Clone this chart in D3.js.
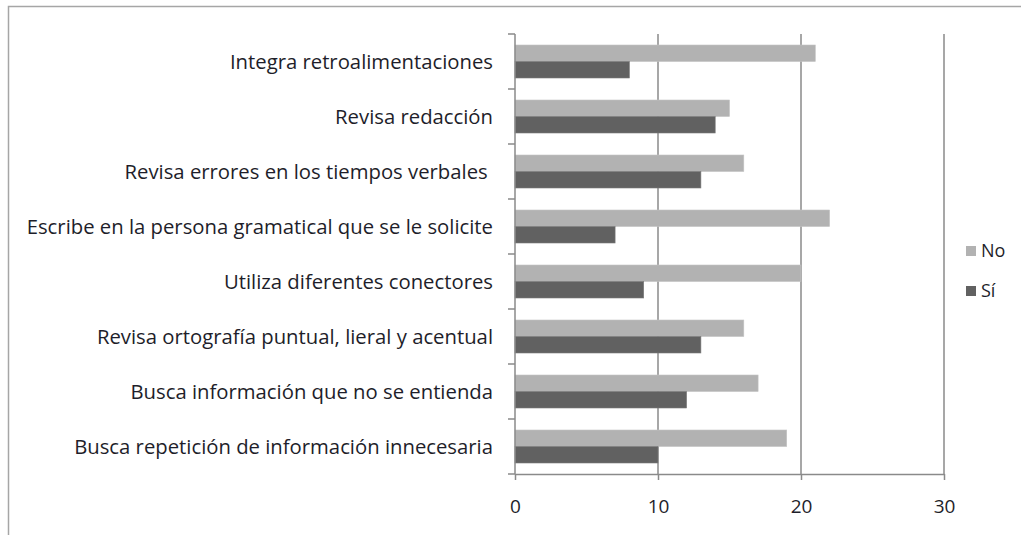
<!DOCTYPE html>
<html><head><meta charset="utf-8">
<script src="https://cdn.jsdelivr.net/npm/d3@7"></script>
<style>body{margin:0;background:#fff}svg{display:block}</style>
</head><body>
<svg id="c" width="1021" height="535"></svg>
<script>
const categories = [
  "Integra retroalimentaciones",
  "Revisa redacción",
  "Revisa errores en los tiempos verbales ",
  "Escribe en la persona gramatical que se le solicite",
  "Utiliza diferentes conectores",
  "Revisa ortografía puntual, lieral y acentual",
  "Busca información que no se entienda",
  "Busca repetición de información innecesaria"
];
const seriesNames = ["No", "Sí"];
const valuesNo = [21, 15, 16, 22, 20, 16, 17, 19];
const valuesSi = [8, 14, 13, 7, 9, 13, 12, 10];
const xTicks = [0, 10, 20, 30];
const colors = ["#b2b2b2", "#616161"];

const svg = d3.select("#c");
const font = "'Open Sans', sans-serif";
const textColor = "#1e1e2a";

// outer border
svg.append("rect").attr("x", 8.5).attr("y", 6.5).attr("width", 1100).attr("height", 600)
  .attr("fill", "none").attr("stroke", "#a6a6a6").attr("stroke-width", 1.5);

const x = d3.scaleLinear().domain([0, 30]).range([515, 944]);
const y = d3.scaleBand().domain(categories).range([34, 474]).paddingInner(0.4).paddingOuter(0.2);
const yOuter = d3.scaleBand().domain(categories).range([34, 474]);
const sub = d3.scaleBand().domain(seriesNames).range([0, y.bandwidth()]);

// gridlines
svg.append("g").selectAll("line").data(xTicks.slice(1)).join("line")
  .attr("x1", d => x(d)).attr("x2", d => x(d)).attr("y1", 34).attr("y2", 474)
  .attr("stroke", "#8a8a8a").attr("stroke-width", 1.5);

// bars
const data = categories.map((c, i) => ({c, vals: [valuesNo[i], valuesSi[i]]}));
const g = svg.append("g");
data.forEach(d => {
  seriesNames.forEach((s, j) => {
    g.append("rect")
      .attr("x", x(0)).attr("y", y(d.c) + sub(s))
      .attr("width", x(d.vals[j]) - x(0)).attr("height", sub.bandwidth())
      .attr("fill", colors[j]).attr("stroke", j === 0 ? "#c4c4c4" : "#7a7a7a").attr("stroke-width", 0.6);
  });
});

// x axis
const xAxis = svg.append("g").attr("transform", "translate(0,474)")
  .call(d3.axisBottom(x).tickValues(xTicks).tickSize(6).tickPadding(20).tickSizeOuter(0));
xAxis.select(".domain").attr("stroke", "#8a8a8a").attr("stroke-width", 1.5);
xAxis.selectAll(".tick line").attr("stroke", "#8a8a8a").attr("stroke-width", 1.5);
xAxis.selectAll("text").attr("font-family", font).attr("font-size", 19).attr("fill", textColor);

// y axis line and ticks at band boundaries
svg.append("line").attr("x1", 515).attr("x2", 515).attr("y1", 34).attr("y2", 474)
  .attr("stroke", "#8a8a8a").attr("stroke-width", 1.5);
const bounds = categories.map(c => yOuter(c)).concat([474]);
svg.append("g").selectAll("line").data(bounds).join("line")
  .attr("x1", 508).attr("x2", 515).attr("y1", d => d).attr("y2", d => d)
  .attr("stroke", "#8a8a8a").attr("stroke-width", 1.5);

// category labels
svg.append("g").selectAll("text").data(categories).join("text")
  .attr("x", 493).attr("y", d => yOuter(d) + yOuter.bandwidth() / 2)
  .attr("dy", "0.35em").attr("text-anchor", "end")
  .attr("font-family", font).attr("font-size", 20.3).attr("fill", textColor)
  .style("white-space", "pre").text(d => d);

// legend
const leg = svg.append("g");
seriesNames.forEach((s, j) => {
  const ly = 251 + j * 40;
  leg.append("rect").attr("x", 966).attr("y", ly - 5).attr("width", 10).attr("height", 10).attr("fill", colors[j]);
  leg.append("text").attr("x", 981).attr("y", ly).attr("dy", "0.35em")
    .attr("font-family", font).attr("font-size", 18).attr("fill", textColor).text(s);
});
</script>
</body></html>
